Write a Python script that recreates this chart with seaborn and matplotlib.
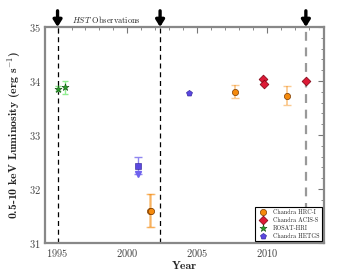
import matplotlib
matplotlib.use("Agg")
import matplotlib.pyplot as plt
import seaborn as sns
import numpy as np
from matplotlib.ticker import MultipleLocator

# ---- data ----
hst_years = [1995.0, 2002.35, 2012.8]

rosat_year = [1995.0, 1995.5]
rosat_lum = [33.86, 33.88]
rosat_err = [0.04, 0.12]

hrc_year = [2001.65, 2001.72, 2007.75, 2011.45]
hrc_lum = [31.6, 31.6, 33.8, 33.73]
hrc_err = [0.3, 0.3, 0.12, 0.17]

acis_year = [2009.7, 2009.78, 2012.8]
acis_lum = [34.03, 33.95, 34.0]

hetgs_year = [2004.4]
hetgs_lum = [33.77]

sq_year = [2000.75]
sq_lum = [32.43]
sq_lo = [32.28]
sq_hi = [32.6]

legend_labels = ["Chandra HRC-I", "Chandra ACIS-S", "ROSAT-HRI", "Chandra HETGS"]

# ---- style ----
sns.set_style("white")
plt.rcParams['font.family'] = ['cmr10', 'DejaVu Serif']
plt.rcParams['mathtext.fontset'] = 'cm'
plt.rcParams['axes.unicode_minus'] = False
plt.rcParams['axes.formatter.use_mathtext'] = True

c_orange = "#f58a0c"
c_red = "#dc1a36"
c_green = "#2aa02a"
c_blue = "#5a48e0"

fig = plt.figure(figsize=(3.6, 2.7), dpi=100)
ax = fig.add_axes([0.125, 0.1, 0.775, 0.8])

# dashed HST lines
for i, yr in enumerate(hst_years):
    col = "black" if i < 2 else "#999999"
    lw = 0.9 if i < 2 else 1.6
    ax.axvline(yr, color=col, ls=(0, (4, 3)), lw=lw, zorder=1)
    ax.annotate("", xy=(yr, 1.0), xycoords=("data", "axes fraction"),
                xytext=(yr, 1.075), textcoords=("data", "axes fraction"),
                arrowprops=dict(arrowstyle="-|>,head_width=0.25,head_length=0.4",
                                color="black", lw=2.4, shrinkA=0, shrinkB=0),
                annotation_clip=False)
ax.text(1998.5, 1.035, r"$HST$ Observations", transform=ax.get_xaxis_transform(),
        ha="center", va="center", fontsize=6)

# error bars
ax.errorbar(rosat_year, rosat_lum, yerr=rosat_err, fmt="none", ecolor="#90ee90",
            elinewidth=1.0, capsize=2.5, capthick=1.0, zorder=2)
ax.errorbar(hrc_year, hrc_lum, yerr=hrc_err, fmt="none", ecolor=c_orange, alpha=0.45,
            elinewidth=1.3, capsize=3, capthick=1.0, zorder=2)
sq_err = [[sq_lum[0] - sq_lo[0]], [sq_hi[0] - sq_lum[0]]]
ax.errorbar(sq_year, sq_lum, yerr=sq_err, fmt="none", ecolor="#8f86f0",
            elinewidth=1.0, capsize=3, capthick=1.0, zorder=2)
ax.plot(sq_year, sq_lo, marker="v", color="#6f62ee", ms=4, ls="none", zorder=3)

# markers
sns.scatterplot(x=hrc_year, y=hrc_lum, marker="o", s=20, color=c_orange,
                edgecolor="#7a3a00", linewidth=0.5, ax=ax, zorder=4, label=legend_labels[0])
sns.scatterplot(x=acis_year, y=acis_lum, marker="D", s=20, color=c_red,
                edgecolor="#7a0010", linewidth=0.5, ax=ax, zorder=4, label=legend_labels[1])
sns.scatterplot(x=rosat_year, y=rosat_lum, marker="*", s=28, color=c_green,
                edgecolor="#0a4a0a", linewidth=0.4, ax=ax, zorder=4, label=legend_labels[2])
sns.scatterplot(x=hetgs_year, y=hetgs_lum, marker="p", s=20, color=c_blue,
                edgecolor="#2a1a90", linewidth=0.4, ax=ax, zorder=4, label=legend_labels[3])
sns.scatterplot(x=sq_year, y=sq_lum, marker="s", s=20, color=c_blue,
                edgecolor="#2a1a90", linewidth=0.4, ax=ax, zorder=4)

ax.set_xlim(1994.1, 2014.1)
ax.set_ylim(31, 35)
ax.xaxis.set_major_locator(MultipleLocator(5))
ax.xaxis.set_minor_locator(MultipleLocator(1))
ax.yaxis.set_major_locator(MultipleLocator(1))
ax.yaxis.set_minor_locator(MultipleLocator(0.2))
ax.tick_params(which="both", direction="in", top=True, right=True, color="#777777",
               labelcolor="#444444", labelsize=7.5)
ax.tick_params(which="major", length=4, width=0.8, pad=3)
ax.tick_params(which="minor", length=2, width=0.6)
for s in ax.spines.values():
    s.set_color("#888888")
    s.set_linewidth(1.6)

ax.set_xlabel("Year", fontsize=8.5, family=["cmb10", "DejaVu Serif"], labelpad=1)
ax.set_ylabel(r"0.5-10 keV Luminosity (erg s$^{-1}$)", fontsize=8.5,
              family=["cmb10", "DejaVu Serif"], labelpad=4)

leg = ax.legend(loc="lower right", fontsize=4.4, frameon=True, fancybox=False,
                framealpha=1, edgecolor="black", borderpad=0.4, handletextpad=0.6,
                labelspacing=0.35, borderaxespad=0.3, markerscale=1.0)
leg.get_frame().set_linewidth(0.8)

fig.savefig("out.png", dpi=100)
